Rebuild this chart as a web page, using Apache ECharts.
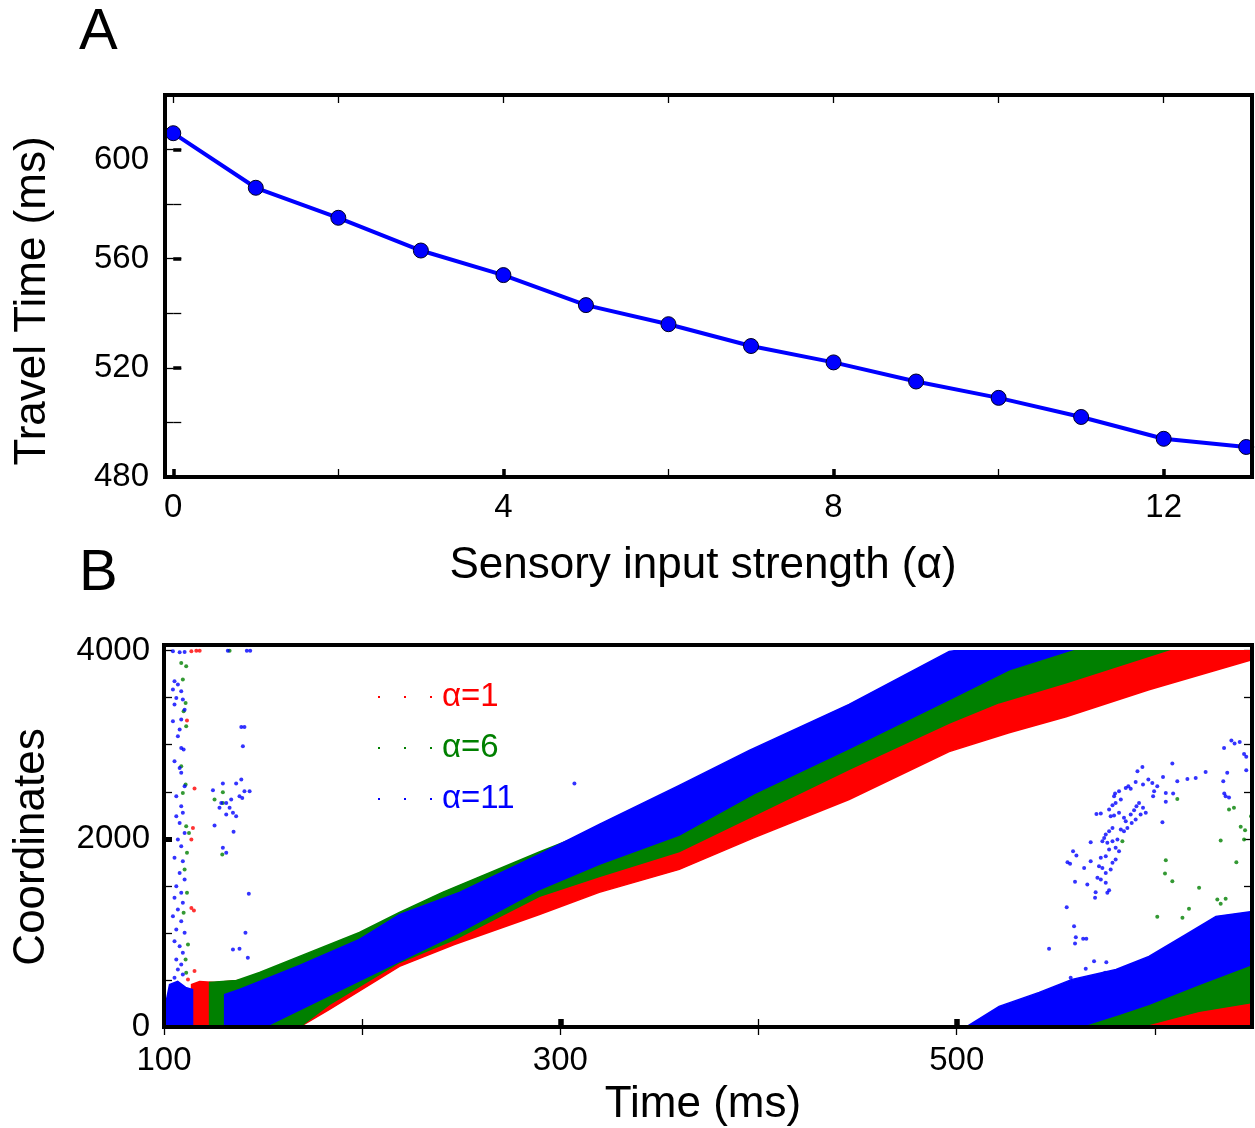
<!DOCTYPE html>
<html><head><meta charset="utf-8">
<script src="https://cdn.jsdelivr.net/npm/echarts@6/dist/echarts.min.js"></script>
<style>html,body{margin:0;padding:0;background:#fff}#c{width:1255px;height:1128px}</style>
</head><body><div id="c"></div>
<script>
const FONT = '"Liberation Sans", Arial, Helvetica, sans-serif';

// ---------- Panel A data ----------
const alphaValues = [0,1,2,3,4,5,6,7,8,9,10,11,12,13];
const travelTimes = [606,586,575,563,554,543,536,528,522,515,509,502,494,491];
const aXTicks = [0,2,4,6,8,10,12];
const aXLabels = [0,4,8,12];
const aYTicks = [480,500,520,540,560,580,600,620];
const aYLabels = [480,520,560,600];

// ---------- Panel B data ----------
const bXTicks = [100,200,300,400,500,600];
const bXLabels = [100,300,500];
const bXMajor = [300,500];
const bYTicks = [0,500,1000,1500,2000,2500,3000,3500,4000];
const bYLabels = [0,2000,4000];
const bYMajor = [2000];
const seriesNames = ['α=1','α=6','α=11'];
const seriesColors = ['#ff0000','#008000','#0000ff'];

// dense spike bands (edges): [time, coordinate]
const redBandTop = [[113.9,0],[113.9,452],[118.0,484],[125.5,474],[143.2,506],[168.4,559],[218.8,1037],[289.4,1675],[360.0,2151],[397.8,2470],[445.7,2842],[496.2,3351],[546.6,3776],[580.4,4000],[649,4000]];
const redBandBottom = [[168.4,0],[183.5,187],[218.8,644],[246.5,877],[289.4,1195],[319.6,1431],[360.0,1675],[397.8,2013],[445.7,2418],[496.2,2927],[526.4,3128],[555.2,3298],[597.0,3585],[649,3903]];
const greenBandTop = [[123.0,0],[123.0,474],[136.6,495],[148.2,580],[173.4,793],[198.6,1005],[218.8,1218],[240.5,1431],[289.4,1860],[360.0,2450],[397.8,2800],[445.7,3300],[496.2,3800],[521.4,3900],[541.6,4000],[605.6,4000]];
const greenBandBottom = [[136.6,0],[168.4,0],[183.5,240],[218.8,686],[246.5,930],[289.4,1388],[319.6,1600],[360.0,1865],[397.8,2250],[445.7,2740],[496.2,3230],[521.4,3447],[555.2,3659],[605.6,4000]];
const blueBandTop = [[130.6,0],[130.6,346],[138.1,399],[168.4,654],[198.6,930],[218.8,1195],[249.1,1431],[289.4,1835],[319.6,2154],[360.0,2568],[395.3,2940],[445.7,3429],[496.2,3992],[498.7,4000],[556.7,4000]];
const blueBandBottom = [[150.7,0],[183.5,336],[218.8,697],[249.1,1005],[289.4,1462],[319.6,1728],[360.0,2040],[397.8,2480],[445.7,2960],[496.2,3480],[526.4,3797],[556.7,4000]];
const blueColumnTop = [[101.3,0],[101.3,293],[102.8,452],[106.9,484],[110.9,421],[114.4,399]];
const blueColumnBottom = [[114.4,0]];
// second wave
const blue2Top = [[504.8,0],[521.4,219],[541.6,368],[558.2,506],[580.4,612],[597.0,750],[615.7,984],[630.8,1176],[649,1227]];
const blue2Bottom = [[561.8,0],[582.0,134],[597.0,240],[622.2,452],[649,665]];
const green2Top = [[551.6,0],[561.8,187],[597.0,325],[622.2,537],[649,739]];
const green2Bottom = [[592.0,0],[622.2,166],[649,261]];
const red2Top = [[592.0,0],[610.6,155],[649,272]];
const red2Bottom = [[649,0]];

// isolated spikes
const redStray = [[113.8,3993],[116.3,4000],[118.0,4000],[111.6,3257],[115.4,2534],[114.6,2116],[113.8,1992],[113.8,1266],[115.1,1238],[115.4,594],[112.1,505]];
const greenStray = [[108.7,3869],[111.2,3834],[109.5,3692],[110.9,3444],[109.9,3356],[111.2,3196],[108.7,2771],[110.9,2577],[109.5,2488],[111.2,2134],[111.6,1851],[110.4,1674],[111.6,1426],[109.9,1213],[112.1,877],[110.9,718],[112.6,2063],[111.2,576],[125.5,2417],[129.7,2382],[133.1,4000],[129.4,1833],[129.7,2495],
 [611.3,2424],[637.4,2311],[639.9,2329],[648.5,2240],[643.3,2127],[645.5,2092],[645.0,1992],[633.2,1982],[641.1,1752],[605.5,1773],[605.1,1631],[608.8,1550],[622.3,1479],[631.5,1355],[633.2,1309],[635.7,1362],[617.2,1256],[613.9,1160],[601.2,1171],[583.6,1975]];
const blueStray = [[104.5,3993],[107.9,3982],[110.4,3986],[105.3,3674],[107.0,3639],[104.5,3586],[108.7,3568],[106.2,3497],[109.5,3480],[105.3,3427],[110.4,3373],[104.5,3249],[108.7,3267],[107.9,3161],[107.0,3090],[108.7,2966],[109.9,2949],[105.3,2825],[107.9,2754],[108.7,2701],[110.4,2559],[106.2,2453],[108.7,2347],[109.5,2276],[106.2,2240],[107.9,2169],[110.4,2063],[107.0,1992],[108.7,1921],[105.3,1798],[109.5,1762],[107.9,1638],[110.4,1567],[106.2,1497],[108.7,1426],[105.3,1373],[109.5,1320],[107.0,1249],[104.5,1178],[108.7,1125],[106.2,1036],[110.4,1001],[105.3,912],[107.9,859],[109.5,788],[106.2,718],[108.7,664],[107.0,611],[109.5,558],[105.3,523],
 [124.7,2516],[129.7,2587],[128.9,2382],[128.0,2329],[131.4,2382],[133.9,2417],[136.4,2587],[139.0,2630],[138.1,2453],[140.6,2506],[143.2,2506],[139.5,2435],[133.1,2329],[134.8,2276],[131.4,2258],[136.4,2240],[125.5,2141],[135.1,2074],[129.7,1904],[131.4,1851],[139.0,3189],[140.6,3189],[139.8,2984],[142.8,1415],[141.1,1001],[138.1,831],[134.8,824],[142.3,735],[132.2,4000],[141.8,4000],[143.5,4000],
 [307.1,2588],
 [593.7,2764],[591.2,2718],[608.8,2800],[604.1,2658],[611.3,2612],[616.4,2637],[620.6,2647],[625.6,2711],[634.9,2966],[638.6,3044],[640.2,3012],[642.8,3030],[645.0,2902],[646.1,2871],[646.1,2729],[636.5,2701],[634.5,2612],[635.0,2481],[635.7,2453],[637.4,2439],[596.7,2630],[598.7,2594],[601.2,2559],[594.0,2577],[590.3,2605],[586.6,2559],[585.3,2541],[587.8,2531],[581.9,2506],[579.9,2481],[579.4,2453],[582.8,2417],[580.2,2382],[578.6,2357],[576.9,2311],[577.7,2240],[579.4,2247],[581.9,2276],[584.4,2223],[585.3,2187],[587.8,2258],[589.5,2304],[590.7,2347],[592.0,2382],[594.0,2329],[595.4,2276],[592.8,2258],[590.3,2205],[588.3,2169],[586.1,2116],[584.4,2081],[582.8,2099],[578.6,2116],[576.9,2081],[575.2,2045],[574.4,2010],[573.5,1975],[576.0,1957],[578.6,1975],[581.1,1992],[580.2,1904],[581.9,1868],[576.9,1886],[575.2,1815],[572.7,1798],[571.8,1709],[573.5,1691],[575.2,1638],[577.7,1674],[578.6,1745],[580.2,1780],[572.7,1567],[571.0,1585],[575.2,1532],[576.9,1454],[576.0,1426],[570.1,1433],[569.8,1373],[567.6,1762],[564.3,1691],[565.9,1514],[567.6,1964],[558.7,1868],[560.4,1822],[555.9,1752],[557.2,1734],[559.7,1543],[555.5,1274],[559.2,1072],[560.1,955],[559.7,888],[563.8,937],[565.4,937],[546.6,831],[569.3,700],[575.5,689],[565.1,618],[571.0,512],[574.9,576],[579.4,541],[557.5,523],[605.5,2393],[603.8,2176],[599.1,2453],[605.5,2488],[609.2,2481],[599.6,2506],[572.7,2269],[570.5,2265]];

// ---------- helpers ----------
function polygonOf(top, bottom) { return top.concat(bottom.slice().reverse()); }
function polySeries(idx, top, bottom, z) {
  const pts = polygonOf(top, bottom);
  const color = seriesColors[idx];
  return {
    type: 'custom', name: seriesNames[idx], xAxisIndex: 3, yAxisIndex: 3, z: z,
    clip: true, silent: true, data: pts, encode: {x: 0, y: 1},
    renderItem: function (params, api) {
      if (params.dataIndex !== 0) return null;
      return {type: 'polygon', shape: {points: pts.map(function (p) { return api.coord(p); })},
        style: {fill: color, stroke: color, lineWidth: 1.5}};
    }
  };
}
function dotSeries(idx, data, z) {
  return {type: 'scatter', name: seriesNames[idx], xAxisIndex: 3, yAxisIndex: 3, z: z, silent: true,
    symbol: 'circle', symbolSize: 4, itemStyle: {color: seriesColors[idx]}, data: data};
}
function lbl(vals, margin, nudgeValue) {
  return {show: true, customValues: vals, fontSize: 33, color: '#000', fontFamily: FONT, margin: margin,
    formatter: function (v) { return v === nudgeValue ? '{d|' + v + '}' : String(v); },
    rich: {d: {fontSize: 33, color: '#000', fontFamily: FONT, padding: [20, 0, 0, 0]}}};
}
function tick(vals, w, len) {
  return {show: true, inside: true, customValues: vals, length: len || 8, lineStyle: {color: '#000', width: w}};
}
function axis(base) {
  return Object.assign({type: 'value', axisLine: {show: false}, splitLine: {show: false},
    axisLabel: {show: false}}, base);
}
const nameStyle = function (pad) { return {fontSize: 44, color: '#000', fontFamily: FONT, padding: pad}; };

const xAxes = [
  axis({gridIndex: 0, position: 'bottom', min: -0.1, max: 13.07, axisTick: tick(aXTicks, 1.3), axisLabel: lbl(aXLabels, 14),
    name: 'Sensory input strength (α)', nameLocation: 'middle', nameGap: 67, nameTextStyle: nameStyle([0, 11, 0, 0])}),
  axis({gridIndex: 0, position: 'bottom', min: -0.1, max: 13.07, axisTick: tick(aXLabels, 3.5)}),
  axis({gridIndex: 0, position: 'top', min: -0.1, max: 13.07, axisTick: tick(aXTicks, 1.3)}),
  axis({gridIndex: 1, position: 'bottom', min: 100, max: 649, axisTick: tick(bXTicks, 1.3), axisLabel: lbl(bXLabels, 17),
    name: 'Time (ms)', nameLocation: 'middle', nameGap: 56, nameTextStyle: nameStyle([0, 10, 0, 0])}),
  axis({gridIndex: 1, position: 'bottom', min: 100, max: 649, axisTick: tick(bXMajor, 5.5)}),
  axis({gridIndex: 1, position: 'top', min: 100, max: 649, axisTick: tick(bXTicks, 1.3)})
];
const yAxes = [
  axis({gridIndex: 0, position: 'left', min: 480, max: 620, axisTick: tick(aYTicks, 1.3), axisLabel: lbl(aYLabels, 16, 600),
    name: 'Travel Time (ms)', nameLocation: 'middle', nameGap: 110, nameTextStyle: nameStyle([0, 30, 0, 0])}),
  axis({gridIndex: 0, position: 'left', min: 480, max: 620, axisTick: tick(aYLabels, 3.5)}),
  axis({gridIndex: 0, position: 'right', min: 480, max: 620, axisTick: tick(aYTicks, 1.3)}),
  axis({gridIndex: 1, position: 'left', min: 0, max: 4060, axisTick: tick(bYTicks, 1.3), axisLabel: lbl(bYLabels, 14),
    name: 'Coordinates', nameLocation: 'middle', nameGap: 110, nameTextStyle: nameStyle([0, 22, 0, 0])}),
  axis({gridIndex: 1, position: 'left', min: 0, max: 4060, axisTick: tick(bYMajor, 5)}),
  axis({gridIndex: 1, position: 'right', min: 0, max: 4060, axisTick: tick(bYTicks, 1.3)})
];

const series = [
  {type: 'line', xAxisIndex: 0, yAxisIndex: 0, data: alphaValues.map(function (a, i) { return [a, travelTimes[i]]; }),
    symbol: 'circle', symbolSize: 15, clip: false, z: 5,
    lineStyle: {color: '#0000ff', width: 4},
    itemStyle: {color: '#0000ff', borderColor: '#000022', borderWidth: 1}},
  polySeries(0, redBandTop, redBandBottom, 2),
  polySeries(0, red2Top, red2Bottom, 2),
  polySeries(1, greenBandTop, greenBandBottom, 3),
  polySeries(1, green2Top, green2Bottom, 3),
  polySeries(2, blueBandTop, blueBandBottom, 4),
  polySeries(2, blue2Top, blue2Bottom, 4),
  polySeries(2, blueColumnTop, blueColumnBottom, 4),
  dotSeries(0, redStray, 5),
  dotSeries(1, greenStray, 5),
  dotSeries(2, blueStray, 6)
];

const chart = echarts.init(document.getElementById('c'), null, {renderer: 'canvas'});
chart.setOption({
  animation: false,
  backgroundColor: '#fff',
  title: [
    {text: 'A', left: 79, top: 4, padding: 0, textStyle: {fontSize: 58, fontWeight: 'normal', color: '#000', fontFamily: FONT}},
    {text: 'B', left: 79, top: 545, padding: 0, textStyle: {fontSize: 58, fontWeight: 'normal', color: '#000', fontFamily: FONT}}
  ],
  grid: [
    {left: 165, right: 3, top: 95, height: 382, show: true, borderColor: '#000', borderWidth: 4, z: 10},
    {left: 164, right: 3, top: 645, height: 383, show: true, borderColor: '#000', borderWidth: 4, z: 10}
  ],
  legend: {
    left: 373, top: 675, orient: 'vertical', itemWidth: 54, itemHeight: 3, itemGap: 17, selectedMode: false,
    textStyle: {fontSize: 33, fontFamily: FONT, lineHeight: 34, padding: [0, 0, 0, 5]},
    data: seriesNames.map(function (n, i) {
      return {name: n, icon: 'path://M0,0h2v2h-2zM26,0h2v2h-2zM52,0h2v2h-2z',
        itemStyle: {color: seriesColors[i]}, textStyle: {color: seriesColors[i]}};
    })
  },
  xAxis: xAxes,
  yAxis: yAxes,
  series: series
});
</script>
</body></html>
